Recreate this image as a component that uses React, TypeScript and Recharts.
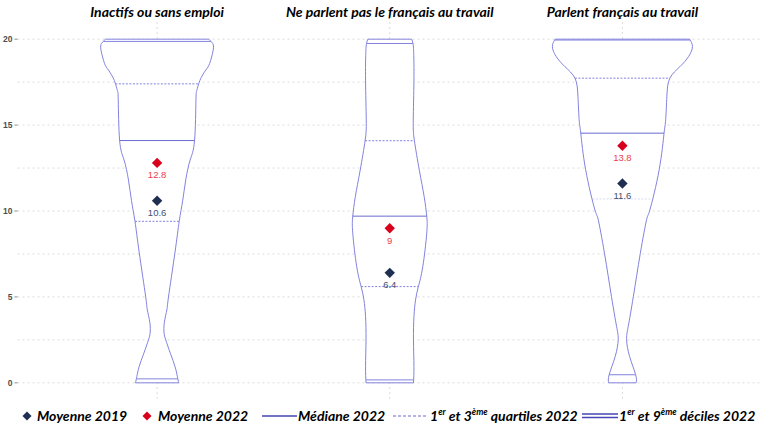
import React from 'react';
import { ScatterChart, Scatter, XAxis, YAxis, CartesianGrid } from 'recharts';

const categories = ['Inactifs ou sans emploi', 'Ne parlent pas le français au travail', 'Parlent français au travail'];
const positions = [1, 2, 3];

const mean2019 = [10.6, 6.4, 11.6];
const mean2022 = [12.8, 9, 13.8];
const median2022 = [14.1, 9.7, 14.53];
const quartile1 = [9.4, 5.6, 10.7];
const quartile3 = [17.4, 14.09, 17.73];
const decile1 = [0.23, 0.17, 0.47];
const decile9 = [19.87, 19.75, 19.95];

const yTicks = [0, 5, 10, 15, 20];
const gridValues = [0, 2.5, 5, 7.5, 10, 12.5, 15, 17.5, 20];

// violin outlines: value levels and half-width of the density at that level (x units)
const inactifsLevels = [0, 0.37, 0.95, 1.72, 2.5, 2.9, 3.5, 4.24, 5, 7.6, 9.4, 10.6, 11.8, 12.97, 14.1, 16.45, 17.03, 17.6, 18.2, 18.59, 19.36, 19.75, 20];
const inactifsWidth = [0.093, 0.087, 0.077, 0.057, 0.037, 0.03, 0.031, 0.042, 0.049, 0.077, 0.095, 0.11, 0.123, 0.142, 0.161, 0.167, 0.171, 0.184, 0.209, 0.226, 0.241, 0.239, 0.222];

const pasFrancaisLevels = [0, 0.95, 2.5, 3.86, 4.83, 5.6, 6.76, 8.7, 9.7, 10.83, 12.38, 14.09, 15.29, 17.62, 19.17, 19.75, 20];
const pasFrancaisWidth = [0.102, 0.104, 0.102, 0.104, 0.111, 0.123, 0.142, 0.159, 0.159, 0.148, 0.127, 0.106, 0.101, 0.104, 0.103, 0.1, 0.094];

const francaisLevels = [0, 0.47, 1.53, 2.5, 3.28, 5.02, 7.54, 9.5, 10.06, 12.4, 14.53, 15.31, 16.66, 17.73, 18.4, 19.0, 19.57, 20];
const francaisWidth = [0.059, 0.057, 0.031, 0.018, 0.025, 0.047, 0.077, 0.104, 0.118, 0.158, 0.179, 0.186, 0.191, 0.204, 0.247, 0.285, 0.301, 0.289];

const profileLevels = [inactifsLevels, pasFrancaisLevels, francaisLevels];
const profileWidths = [inactifsWidth, pasFrancaisWidth, francaisWidth];

const OUTLINE = '#8282de';
const MEDIAN = '#6a6ad2';
const NAVY = '#1f2f52';
const RED = '#d9001b';
const FONT = 'Lato, "Open Sans", sans-serif';

const halfWidthAt = (levels: number[], widths: number[], v: number) => {
  for (let k = 0; k < levels.length - 1; k++) {
    if (v >= levels[k] && v <= levels[k + 1]) {
      const t = (v - levels[k]) / (levels[k + 1] - levels[k]);
      return widths[k] + t * (widths[k + 1] - widths[k]);
    }
  }
  return widths[widths.length - 1];
};

const violins = categories.map((name, i) => {
  const c = positions[i];
  const lv = profileLevels[i];
  const hw = profileWidths[i];
  const left = lv.map((y, k) => ({ x: c - hw[k], y }));
  const right = lv.map((y, k) => ({ x: c + hw[k], y }));
  const seg = (y: number) => {
    const w = halfWidthAt(lv, hw, y);
    return [{ x: c - w, y }, { x: c + w, y }];
  };
  return {
    name,
    left,
    right,
    outline: [...left, ...right.slice().reverse()],
    bottom: seg(lv[0]),
    top: seg(lv[lv.length - 1]),
    median: seg(median2022[i]),
    q1: seg(quartile1[i]),
    q3: seg(quartile3[i]),
    d1: seg(decile1[i]),
    d9: seg(decile9[i]),
  };
});

const means2019 = mean2019.map((y, i) => ({ x: positions[i], y }));
const means2022 = mean2022.map((y, i) => ({ x: positions[i], y }));

const noDot = () => <g />;

const diamond = (fill: string, textFill: string) => (props: any) => {
  const { cx, cy, payload } = props;
  const r = 5.2;
  return (
    <g>
      <path d={`M${cx},${cy - r}L${cx + r},${cy}L${cx},${cy + r}L${cx - r},${cy}Z`} fill={fill} />
      <text x={cx} y={cy + 15.5} textAnchor="middle" fontSize={9.5} fill={textFill} fontFamily="'Liberation Sans', Arial, sans-serif">
        {payload.y}
      </text>
    </g>
  );
};

const Seg = ({ data, dash, color, width, opacity }: any) => (
  <Scatter
    data={data}
    shape={noDot}
    line={{ stroke: color, strokeWidth: width || 1, strokeDasharray: dash, strokeOpacity: opacity || 1 }}
    lineJointType="linear"
    isAnimationActive={false}
  />
);

const legendText: React.CSSProperties = {
  position: 'absolute',
  top: 0,
  fontFamily: FONT,
  fontWeight: 700,
  fontStyle: 'italic',
  fontSize: 14,
  color: '#000',
  whiteSpace: 'nowrap',
  lineHeight: '24px',
};

const supStyle: React.CSSProperties = { fontSize: 9, verticalAlign: 'top', lineHeight: '16px' };

function LegendRow() {
  const diamondIcon = (left: number, color: string) => (
    <svg style={{ position: 'absolute', left, top: 7 }} width={10} height={10}>
      <path d="M5,0.5L9.5,5L5,9.5L0.5,5Z" fill={color} />
    </svg>
  );
  return (
    <div style={{ position: 'absolute', left: 0, top: 404, width: 760, height: 24 }}>
      {diamondIcon(22, NAVY)}
      <span style={{ ...legendText, left: 37 }}>Moyenne 2019</span>
      {diamondIcon(142, RED)}
      <span style={{ ...legendText, left: 158 }}>Moyenne 2022</span>
      <svg style={{ position: 'absolute', left: 262, top: 8 }} width={35} height={8}>
        <line x1={0} y1={4} x2={35} y2={4} stroke="#4646b4" strokeWidth={1.5} />
      </svg>
      <span style={{ ...legendText, left: 298 }}>Médiane 2022</span>
      <svg style={{ position: 'absolute', left: 393, top: 8 }} width={33} height={8}>
        <line x1={0} y1={4} x2={33} y2={4} stroke="#6a6ad2" strokeWidth={1} strokeDasharray="3 2" />
      </svg>
      <span style={{ ...legendText, left: 430 }}>
        1<sup style={supStyle}>er</sup> et 3<sup style={supStyle}>ème</sup> quartiles 2022
      </span>
      <svg style={{ position: 'absolute', left: 582, top: 7 }} width={36} height={10}>
        <line x1={0} y1={3} x2={36} y2={3} stroke="#4646b4" strokeWidth={1.3} />
        <line x1={0} y1={6.5} x2={36} y2={6.5} stroke="#4646b4" strokeWidth={1.3} />
      </svg>
      <span style={{ ...legendText, left: 619 }}>
        1<sup style={supStyle}>er</sup> et 9<sup style={supStyle}>ème</sup> déciles 2022
      </span>
    </div>
  );
}

export default function App() {
  return (
    <div style={{ position: 'absolute', left: 0, top: 0, width: 760, height: 428, overflow: 'hidden', background: '#fff' }}>
      <ScatterChart width={762} height={401} margin={{ top: 0, right: 0, bottom: 1, left: 0 }}>
        <CartesianGrid
          horizontalValues={gridValues}
          verticalValues={positions}
          stroke="#dcdcdc"
          strokeDasharray="2 3"
        />
        <XAxis
          type="number"
          dataKey="x"
          orientation="top"
          domain={[0.4, 3.6]}
          ticks={positions}
          interval={0}
          height={22}
          axisLine={false}
          tickLine={false}
          tickSize={0}
          tickMargin={5}
          tickFormatter={(v: number) => categories[positions.indexOf(v)]}
          tick={{ fontSize: 14, fontWeight: 700, fontStyle: 'italic', fill: '#000', fontFamily: FONT }}
          allowDataOverflow
        />
        <YAxis
          type="number"
          dataKey="y"
          domain={[-1, 21]}
          ticks={yTicks}
          interval={0}
          width={17.5}
          axisLine={false}
          tickLine={{ stroke: '#8c8c8c' }}
          tickSize={3}
          tickMargin={2}
          tick={{ fontSize: 8.5, fontWeight: 700, fill: '#4d4d4d', fontFamily: "'Liberation Sans', Arial, sans-serif" }}
          allowDataOverflow
        />
        {violins.map((v) => (
          <React.Fragment key={v.name}>
            <Scatter
              data={v.outline}
              shape={noDot}
              line={{ stroke: 'none', fill: '#ffffff' }}
              lineJointType="linear"
              isAnimationActive={false}
            />
            <Scatter data={v.left} shape={noDot} line={{ stroke: OUTLINE, strokeWidth: 1 }} lineJointType="natural" isAnimationActive={false} />
            <Scatter data={v.right} shape={noDot} line={{ stroke: OUTLINE, strokeWidth: 1 }} lineJointType="natural" isAnimationActive={false} />
            {Seg({ data: v.bottom, color: OUTLINE })}
            {Seg({ data: v.top, color: OUTLINE })}
            {Seg({ data: v.d1, color: OUTLINE })}
            {Seg({ data: v.d9, color: OUTLINE })}
            {Seg({ data: v.q1, color: OUTLINE, dash: '2 1.5', opacity: v.name.startsWith('Parlent') ? 0.3 : 1 })}
            {Seg({ data: v.q3, color: OUTLINE, dash: '2 1.5' })}
            {Seg({ data: v.median, color: MEDIAN })}
          </React.Fragment>
        ))}
        <Scatter data={means2019} shape={diamond(NAVY, '#3d4f6e')} isAnimationActive={false} />
        <Scatter data={means2022} shape={diamond(RED, '#ee3b4b')} isAnimationActive={false} />
      </ScatterChart>
      <LegendRow />
    </div>
  );
}
